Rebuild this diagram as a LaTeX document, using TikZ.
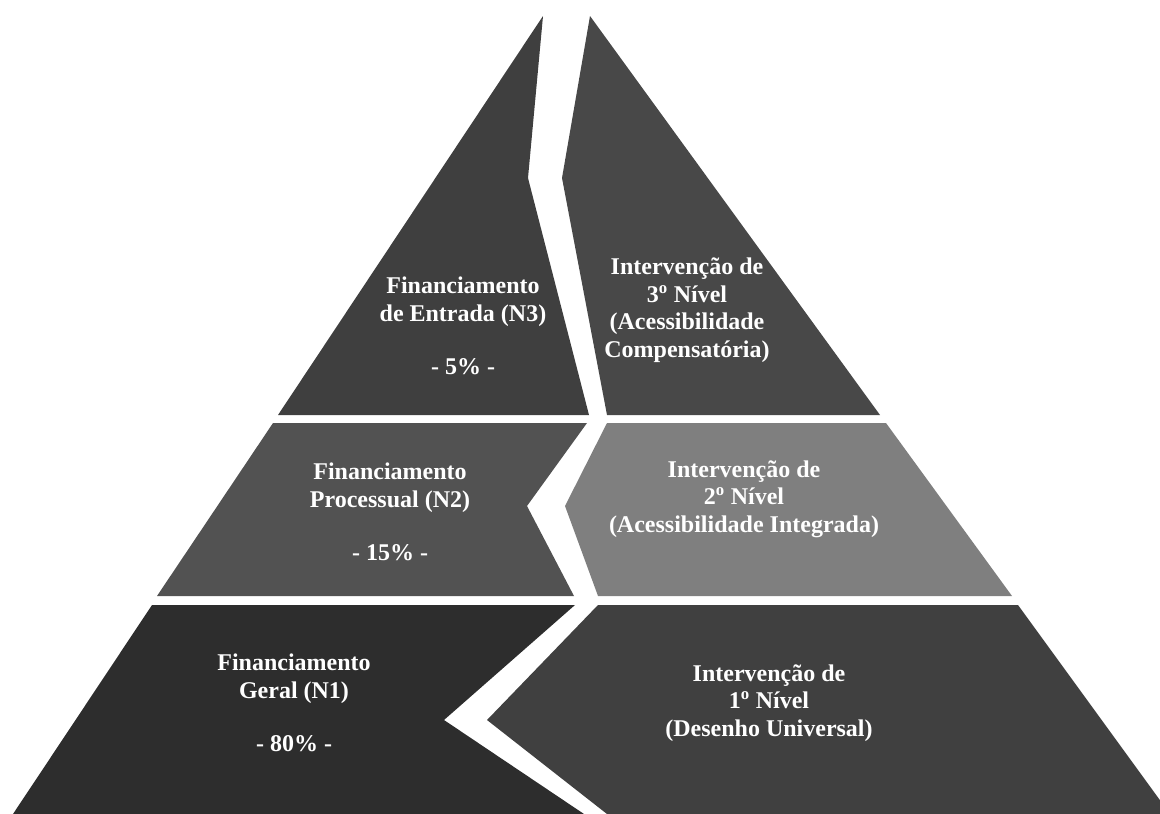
\documentclass[tikz,border=0pt]{standalone}
\usepackage{fontspec}
\setmainfont{Liberation Serif}
\definecolor{upperfin}{HTML}{3F3F3F}
\definecolor{upperint}{HTML}{484848}
\definecolor{middlefin}{HTML}{525252}
\definecolor{middleint}{HTML}{7F7F7F}
\definecolor{lowerfin}{HTML}{2D2D2D}
\definecolor{lowerint}{HTML}{404040}
\tikzset{piece/.style={fill=#1,draw=none},
    tiertext/.style={text=white,align=center,inner sep=0pt,
        font=\fontsize{24}{27.5}\selectfont\bfseries}}

\begin{document}
\begin{tikzpicture}[x=1pt,y=-1pt]
        \useasboundingbox (0,0) rectangle (1160,814);
        \clip (0,0) rectangle (1160,814);

        \path[piece=upperfin] (543,16) -- (528,178) -- (589,415) -- (278,415) -- cycle;
        \path[piece=upperint] (590,16) -- (880,415) -- (607,415) -- (562,178) -- cycle;
        \path[piece=middlefin] (273,423) -- (587,423) -- (527,506) -- (574,596) -- (157,596) -- cycle;
        \path[piece=middleint] (607,423) -- (886,423) -- (1012,596) -- (598,596) -- (565,506) -- cycle;
        \path[piece=lowerfin] (152,605) -- (575,605) -- (444,720) -- (584,814) -- (13,814) -- cycle;
        \path[piece=lowerint] (598,605) -- (1018,605) -- (1170,814) -- (607,814) -- (487,720) -- cycle;

        \node[tiertext] (fin3) at (463,326) {Financiamento\\de Entrada (N3)\\[26pt]- 5\% -};
        \node[tiertext] (int3) at (687,310) {Intervenção de\\3\textsuperscript{o} Nível\\(Acessibilidade\\Compensatória)};
        \node[tiertext] (fin2) at (390,512) {Financiamento\\Processual (N2)\\[26pt]- 15\% -};
        \node[tiertext] (int2) at (744,499) {Intervenção de\\2\textsuperscript{o} Nível\\(Acessibilidade Integrada)};
        \node[tiertext] (fin1) at (294,703) {Financiamento\\Geral (N1)\\[26pt]- 80\% -};
        \node[tiertext] (int1) at (769,703) {Intervenção de\\1\textsuperscript{o} Nível\\(Desenho Universal)};
\end{tikzpicture}
\end{document}
